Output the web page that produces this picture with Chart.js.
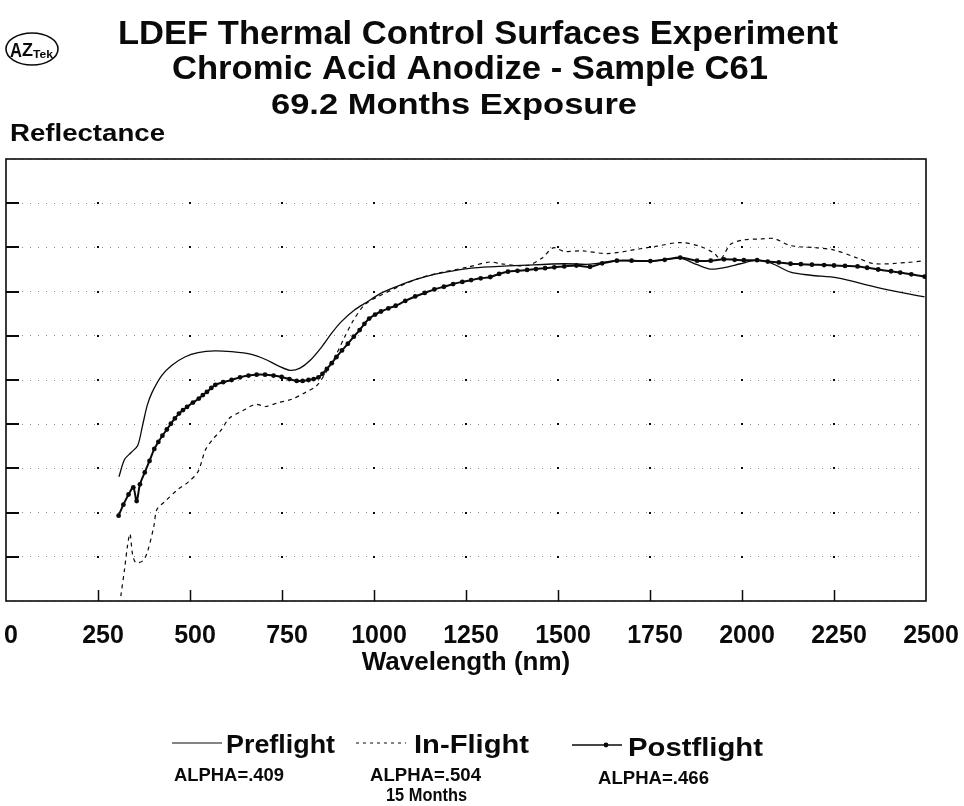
<!DOCTYPE html>
<html>
<head>
<meta charset="utf-8">
<title>LDEF Thermal Control Surfaces Experiment - Sample C61</title>
<script src="https://cdn.jsdelivr.net/npm/chart.js@4.4.1/dist/chart.umd.min.js"></script>
<style>
    html, body { margin: 0; padding: 0; background: #fff; }
    #wrap { width: 964px; height: 806px; }
</style>
</head>
<body>
<div id="wrap"><canvas id="reflectanceGraph" width="964" height="806"></canvas></div>
<script>
// reflectance (%) against wavelength (nm) for each measurement
const preflightWavelength = [307, 322, 340, 358, 371, 384, 397, 423, 450, 486, 522, 567, 613, 667, 704, 740, 772, 799, 826, 857, 884, 910, 946, 982, 1018, 1063, 1112, 1164, 1215, 1264, 1316, 1416, 1517, 1588, 1660, 1751, 1832, 1878, 1914, 1951, 1996, 2041, 2078, 2132, 2187, 2259, 2369, 2496];
const preflightReflectance = [28.1, 32.0, 33.6, 35.2, 39.7, 44.3, 47.2, 51.0, 53.3, 55.2, 56.2, 56.6, 56.4, 55.8, 54.7, 53.2, 52.2, 52.7, 54.4, 57.4, 60.5, 63.1, 65.8, 67.7, 69.6, 71.2, 72.7, 73.9, 74.7, 75.3, 75.6, 76.0, 76.3, 76.2, 77.0, 76.9, 77.5, 76.1, 75.1, 75.4, 76.3, 77.1, 76.5, 74.4, 73.7, 73.1, 70.9, 68.8];

const inflightWavelength = [312, 322, 330, 337, 344, 353, 372, 385, 402, 410, 433, 465, 495, 522, 542, 564, 585, 606, 642, 678, 705, 741, 778, 814, 844, 867, 894, 920, 944, 973, 1009, 1112, 1182, 1253, 1315, 1345, 1416, 1457, 1487, 1517, 1568, 1634, 1724, 1770, 1833, 1887, 1924, 1942, 1969, 2005, 2050, 2087, 2132, 2205, 2250, 2314, 2360, 2450, 2495];
const inflightReflectance = [1.1, 7.1, 12.4, 15.2, 10.5, 8.7, 9.1, 11.3, 17.0, 20.7, 22.6, 25.1, 26.9, 29.3, 34.2, 36.8, 38.7, 41.3, 43.0, 44.5, 44.0, 44.9, 45.7, 47.2, 48.7, 51.4, 55.2, 59.7, 63.5, 66.9, 68.8, 72.7, 74.3, 75.5, 76.7, 76.3, 75.9, 77.6, 79.9, 79.1, 79.2, 78.6, 79.7, 80.3, 81.1, 80.2, 78.7, 77.4, 80.7, 81.7, 81.9, 82.0, 80.4, 79.9, 79.4, 77.6, 76.3, 76.6, 77.0];

const postflightWavelength = [306, 319, 333, 346, 355, 364, 377, 390, 403, 414, 425, 437, 448, 459, 470, 481, 492, 508, 524, 535, 546, 558, 569, 590, 613, 636, 659, 681, 704, 727, 749, 770, 790, 806, 822, 836, 849, 860, 872, 885, 898, 913, 929, 945, 961, 974, 987, 1003, 1019, 1039, 1059, 1085, 1112, 1138, 1164, 1190, 1215, 1240, 1264, 1290, 1316, 1340, 1364, 1390, 1416, 1440, 1465, 1490, 1517, 1550, 1587, 1620, 1660, 1700, 1751, 1790, 1832, 1878, 1915, 1951, 1980, 2005, 2041, 2070, 2100, 2132, 2160, 2190, 2223, 2250, 2280, 2314, 2340, 2370, 2405, 2430, 2460, 2496];
const postflightReflectance = [19.3, 21.8, 24.1, 25.7, 22.6, 26.4, 29.1, 31.7, 34.4, 36.0, 37.4, 38.8, 40.1, 41.3, 42.4, 43.2, 43.9, 44.9, 45.8, 46.6, 47.3, 48.2, 48.9, 49.5, 50.0, 50.6, 51.0, 51.2, 51.2, 51.0, 50.7, 50.2, 49.8, 49.8, 50.0, 50.2, 50.6, 51.4, 52.5, 53.8, 55.2, 56.7, 58.2, 59.8, 61.3, 62.7, 63.9, 64.8, 65.5, 66.2, 66.8, 67.9, 68.9, 69.7, 70.5, 71.1, 71.7, 72.2, 72.6, 73.0, 73.3, 74.0, 74.5, 74.7, 74.9, 75.1, 75.3, 75.5, 75.7, 75.9, 75.6, 76.4, 77.0, 77.0, 76.9, 77.2, 77.7, 77.0, 77.0, 77.3, 77.2, 77.1, 77.1, 76.8, 76.6, 76.3, 76.2, 76.1, 76.0, 75.9, 75.8, 75.7, 75.4, 75.0, 74.6, 74.3, 73.9, 73.4];

// legend captions under each entry
const seriesNames = ['Preflight', 'In-Flight', 'Postflight'];
const seriesNotes = [['ALPHA=.409'], ['ALPHA=.504', '15 Months'], ['ALPHA=.466']];

const titleLines = ['LDEF Thermal Control Surfaces Experiment', 'Chromic Acid Anodize - Sample C61', '69.2 Months Exposure'];

const FONT = '"Liberation Sans", Arial, Helvetica, sans-serif';
const INK = '#0a0a0a';

function to_points(xs, ys) {
    return xs.map((x, i) => ({ x: x, y: ys[i] }));
}

// draws bold text squeezed/stretched to a given width, left aligned
function fit_text(ctx, text, x, y, size, width) {
    ctx.font = `bold ${size}px ${FONT}`;
    const w = ctx.measureText(text).width;
    ctx.save();
    ctx.translate(x, y);
    ctx.scale(width ? width / w : 1, 1);
    ctx.textAlign = 'left';
    ctx.textBaseline = 'alphabetic';
    ctx.fillStyle = INK;
    ctx.fillText(text, 0, 0);
    ctx.restore();
}

// heading, y caption and the little AZTek badge
const headerPlugin = {
    id: 'header',
    afterDraw(chart) {
        const ctx = chart.ctx;
        fit_text(ctx, titleLines[0], 118, 44, 33, 720);
        fit_text(ctx, titleLines[1], 172, 79, 33, 596);
        fit_text(ctx, titleLines[2], 271, 114, 29, 366);
        fit_text(ctx, 'Reflectance', 10, 141, 24, 155);

        ctx.save();
        ctx.strokeStyle = INK;
        ctx.lineWidth = 1.6;
        ctx.beginPath();
        ctx.ellipse(32, 49, 26, 16, 0, 0, Math.PI * 2);
        ctx.stroke();
        ctx.restore();
        fit_text(ctx, 'A', 10, 57, 20, 12);
        fit_text(ctx, 'Z', 22, 56, 18, 11);
        fit_text(ctx, 'Tek', 33, 58, 10, 20);
    }
};

// plot frame, inward tick marks and the dots where grid lines cross
const framePlugin = {
    id: 'frame',
    beforeDatasetsDraw(chart) {
        const { ctx, chartArea: a, scales: { x, y } } = chart;
        ctx.save();
        ctx.fillStyle = INK;
        for (let v = 250; v < 2500; v += 250) {
            for (let r = 10; r < 100; r += 10) {
                ctx.fillRect(Math.round(x.getPixelForValue(v)) - 1, Math.round(y.getPixelForValue(r)) - 1, 2, 2);
            }
        }
        ctx.strokeStyle = INK;
        ctx.lineWidth = 1.5;
        ctx.beginPath();
        for (let v = 250; v < 2500; v += 250) {
            const px = Math.round(x.getPixelForValue(v)) + 0.5;
            ctx.moveTo(px, a.bottom);
            ctx.lineTo(px, a.bottom - 11);
        }
        ctx.stroke();
        ctx.lineWidth = 2.2;
        ctx.beginPath();
        for (let r = 10; r < 100; r += 10) {
            const py = Math.round(y.getPixelForValue(r));
            ctx.moveTo(a.left, py);
            ctx.lineTo(a.left + 13, py);
        }
        ctx.stroke();
        ctx.lineWidth = 1.6;
        ctx.strokeRect(a.left, a.top, a.right - a.left, a.bottom - a.top);
        ctx.restore();
    }
};

// three legend entries with their alpha notes underneath
const notesLegendPlugin = {
    id: 'notesLegend',
    afterDraw(chart) {
        const ctx = chart.ctx;
        const entries = [
            { lx: 172, ly: 743, tx: 226, ty: 753, tw: 109, notes: [[174, 781, 110]] },
            { lx: 356, ly: 743, tx: 414, ty: 753, tw: 115, notes: [[370, 781, 111], [386, 801, 81]] },
            { lx: 572, ly: 745, tx: 628, ty: 756, tw: 135, notes: [[598, 784, 111]] }
        ];
        entries.forEach((e, i) => {
            const ds = chart.data.datasets[i];
            ctx.save();
            ctx.strokeStyle = ds.borderColor;
            ctx.lineWidth = i === 2 ? 1.6 : 1.2;
            ctx.setLineDash(i === 1 ? [3, 4] : []);
            ctx.beginPath();
            ctx.moveTo(e.lx, e.ly);
            ctx.lineTo(e.lx + 50, e.ly);
            ctx.stroke();
            if (i === 2) {
                ctx.fillStyle = ds.pointBackgroundColor;
                ctx.beginPath();
                ctx.arc(e.lx + 34, e.ly, 2.4, 0, Math.PI * 2);
                ctx.fill();
            }
            ctx.restore();
            fit_text(ctx, seriesNames[i], e.tx, e.ty, 25, e.tw);
            seriesNotes[i].forEach((note, k) => {
                const [nx, ny, nw] = e.notes[k];
                fit_text(ctx, note, nx, ny, 19, nw);
            });
        });
    }
};

const reflectanceGraph = new Chart('reflectanceGraph', {
    type: 'line',
    data: {
        datasets: [
            {
                label: seriesNames[0],
                data: to_points(preflightWavelength, preflightReflectance),
                borderColor: INK,
                borderWidth: 1.3,
                pointRadius: 0,
                tension: 0.3
            },
            {
                label: seriesNames[1],
                data: to_points(inflightWavelength, inflightReflectance),
                borderColor: INK,
                borderWidth: 1.2,
                borderDash: [4, 4],
                pointRadius: 0,
                tension: 0.3
            },
            {
                label: seriesNames[2],
                data: to_points(postflightWavelength, postflightReflectance),
                borderColor: INK,
                borderWidth: 2,
                pointRadius: 2.4,
                pointBorderWidth: 0,
                pointBackgroundColor: INK,
                tension: 0.3
            }
        ]
    },
    options: {
        responsive: false,
        animation: false,
        layout: { padding: { top: 159, left: 6, right: 38, bottom: 0 } },
        plugins: {
            legend: { display: false },
            tooltip: { enabled: false },
            title: { display: false }
        },
        scales: {
            x: {
                type: 'linear',
                min: 0,
                max: 2500,
                ticks: {
                    stepSize: 250,
                    autoSkip: false,
                    maxRotation: 0,
                    padding: 20,
                    labelOffset: 5,
                    color: INK,
                    font: { family: FONT, size: 25, weight: 'bold' },
                    callback: value => String(value)
                },
                grid: { display: false, drawTicks: false },
                border: { display: false },
                title: {
                    display: true,
                    text: 'Wavelength (nm)',
                    color: INK,
                    font: { family: FONT, size: 26, weight: 'bold' },
                    padding: { top: 0, bottom: 128 }
                },
                afterFit: scale => {
                    // let the end labels hang past the plot edges
                    scale.height = 205;
                    scale.paddingLeft = 0;
                    scale.paddingRight = 0;
                }
            },
            y: {
                min: 0,
                max: 100,
                ticks: { stepSize: 10, display: false },
                grid: { color: 'rgba(0,0,0,0.45)', lineWidth: 1, drawTicks: false },
                border: { display: false, dash: [1, 7] },
                afterFit: scale => {
                    scale.width = 0;
                    scale.paddingTop = 0;
                    scale.paddingBottom = 0;
                }
            }
        }
    },
    plugins: [framePlugin, headerPlugin, notesLegendPlugin]
});
</script>
</body>
</html>
